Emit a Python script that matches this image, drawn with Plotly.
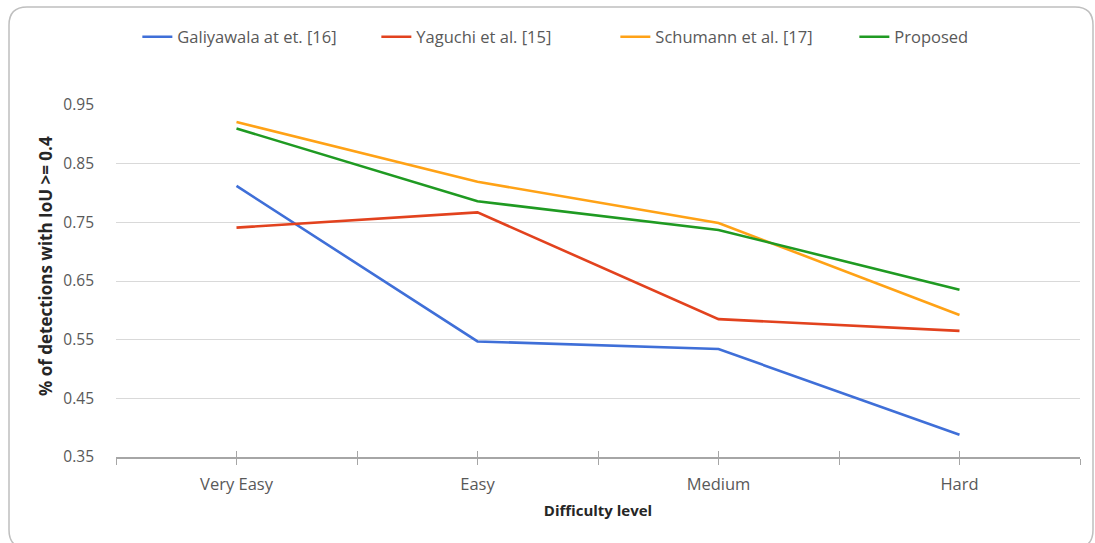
import plotly.graph_objects as go

# Difficulty levels on the x axis
levels = ["Very Easy", "Easy", "Medium", "Hard"]

# Fraction of detections with IoU >= 0.4, per method
galiyawala = [0.812, 0.547, 0.534, 0.388]
yaguchi = [0.741, 0.767, 0.585, 0.565]
schumann = [0.921, 0.819, 0.749, 0.592]
proposed = [0.910, 0.786, 0.737, 0.635]

y_ticks = [0.35, 0.45, 0.55, 0.65, 0.75, 0.85, 0.95]

series = [
    ("Galiyawala at et. [16]", galiyawala, "#3f6fd8"),
    ("Yaguchi et al. [15]", yaguchi, "#e2421e"),
    ("Schumann et al. [17]", schumann, "#ffa216"),
    ("Proposed", proposed, "#1f9a22"),
]

W, H = 1095, 543
ML, MR, MT, MB = 116, 15, 105, 86
PW, PH = W - ML - MR, H - MT - MB

FONT = "Open Sans"
pos = list(range(len(levels)))

fig = go.Figure()
for name, vals, color in series:
    fig.add_trace(go.Scatter(
        x=pos, y=vals, name=name, mode="lines",
        line=dict(color=color, width=2.6),
    ))

# companion axis so the category ticks cross the axis line on both sides
fig.add_trace(go.Scatter(x=[], y=[], xaxis="x2", showlegend=False, hoverinfo="skip"))

tick_common = dict(
    range=[-0.5, len(levels) - 0.5],
    tickmode="array",
    tickvals=pos,
    ticklen=6, tickwidth=1.3, tickcolor="#a6a6a6",
    minor=dict(tickmode="array", tickvals=[p - 0.5 for p in pos] + [len(levels) - 0.5],
               ticklen=6, tickwidth=1.3, tickcolor="#a6a6a6", showgrid=False),
    showgrid=False, zeroline=False,
)

fig.update_layout(
    width=W, height=H,
    margin=dict(l=ML, r=MR, t=MT, b=MB, autoexpand=False),
    paper_bgcolor="white", plot_bgcolor="white",
    font=dict(family=FONT, size=15, color="#595959"),
    xaxis=dict(
        **tick_common,
        ticktext=levels, ticks="outside",
        minor_ticks="outside",
        showline=True, linecolor="#a6a6a6", linewidth=1.6,
        ticklabelstandoff=5,
        tickfont=dict(size=16.5, color="#595959"),
        title=dict(text="<b>Difficulty level</b>", font=dict(size=15, color="#262626"), standoff=12),
    ),
    xaxis2=dict(
        **tick_common,
        overlaying="x", anchor="y", side="bottom",
        ticktext=[""] * len(levels), ticks="inside", minor_ticks="inside",
        showline=False, showticklabels=False,
    ),
    yaxis=dict(
        range=[0.35, 0.95],
        tickmode="array", tickvals=y_ticks,
        ticktext=[f"{v:.2f}" for v in y_ticks],
        showgrid=True, gridcolor="#d9d9d9", gridwidth=1.4,
        zeroline=False, showline=False, ticks="",
        ticklabelstandoff=21,
        tickfont=dict(size=15.5, color="#595959"),
    ),
    legend=dict(
        orientation="h", x=0.518, xanchor="center", y=1 + (MT - 37) / PH, yanchor="middle",
        font=dict(size=16.5, color="#595959"), itemwidth=30, tracegroupgap=0,
        entrywidth=194, entrywidthmode="pixels",
        bgcolor="rgba(0,0,0,0)",
    ),
    showlegend=True,
)

# y-axis title, sitting slightly above the plot's vertical centre
fig.add_annotation(
    text="<b>% of detections with IoU >= 0.4</b>",
    xref="paper", yref="paper", x=(45 - ML) / PW, y=(H - MB - 266) / PH,
    textangle=-90, showarrow=False, xanchor="center", yanchor="middle",
    font=dict(family=FONT, size=17, color="#262626"),
)

# rounded chart frame
x0 = (9 - ML) / PW
x1 = (1093 - ML) / PW
y_top = 1 + (MT - 7) / PH
y_bot = 1 - (548 - MT) / PH
rx = 18 / PW
ry = 18 / PH
path = (f"M {x0 + rx},{y_top} L {x1 - rx},{y_top} Q {x1},{y_top} {x1},{y_top - ry} "
        f"L {x1},{y_bot + ry} Q {x1},{y_bot} {x1 - rx},{y_bot} "
        f"L {x0 + rx},{y_bot} Q {x0},{y_bot} {x0},{y_bot + ry} "
        f"L {x0},{y_top - ry} Q {x0},{y_top} {x0 + rx},{y_top} Z")
fig.add_shape(type="path", path=path, xref="paper", yref="paper",
              line=dict(color="#bfbfbf", width=1.5), layer="below")

fig.write_html("out.html")
